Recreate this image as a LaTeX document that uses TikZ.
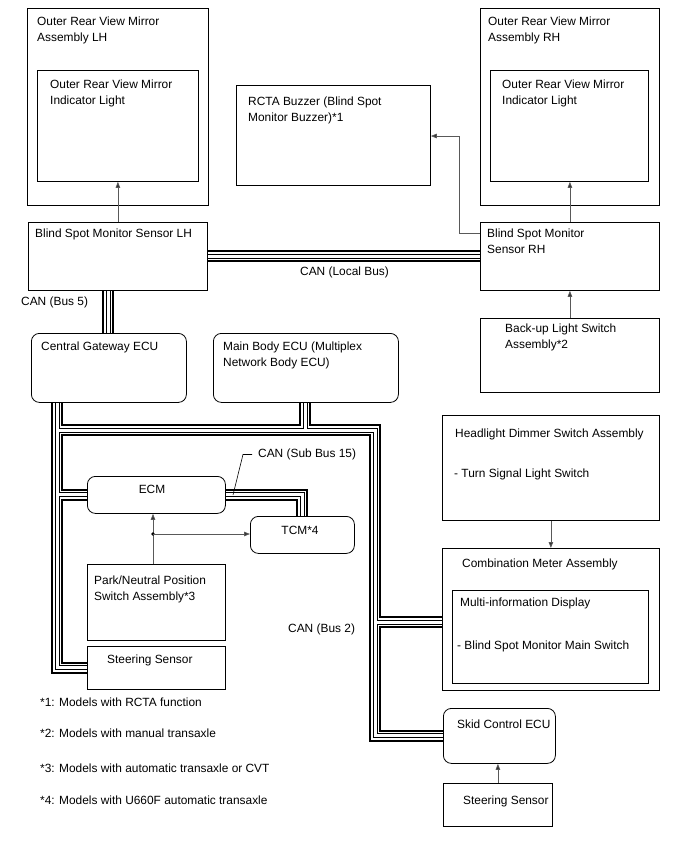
\documentclass[tikz,border=0pt]{standalone}
\usepackage{fontspec}
\setmainfont{Liberation Sans}
\usetikzlibrary{arrows.meta}
\newcommand{\mybox}[6]{\node[#2, minimum width={#5-#3}, minimum height={#6-#4}] (#1) at (#3,#4) {};}
\begin{document}
\begin{tikzpicture}[x=1pt,y=-1pt,
  box/.style={draw=black, line width=0.8pt, inner sep=0pt, anchor=north west},
  rbox/.style={box, rounded corners=8pt},
  txt/.style={inner sep=0pt, anchor=north west, align=left, font=\fontsize{11.9}{16}\selectfont},
  conn/.style={draw=black!65, line width=0.8pt, -{Triangle[length=6pt,width=4.5pt,fill=black!80]}},
  lead/.style={draw=black, line width=0.6pt},
  edge/.style={line width=0.8pt},
]
\path[use as bounding box] (0,0) rectangle (688,852);

% helper coordinates
\coordinate (xb5) at (108,0);
\coordinate (xg) at (57,0);
\coordinate (xr) at (375,0);
\coordinate (xm) at (305,0);
\coordinate (xs) at (302,0);
\coordinate (xp) at (153,0);
\coordinate (xk) at (459,0);
\coordinate (ylb) at (0,256);
\coordinate (yh) at (0,430);
\coordinate (yc) at (0,622);
\coordinate (ya) at (0,233);
\coordinate (yb) at (0,136);

% boxes
\mybox{lhout}{box}{27}{8}{208}{205}
\mybox{lhin}{box}{37}{70}{198}{181}
\mybox{rhout}{box}{480}{8}{659}{205}
\mybox{rhin}{box}{490}{70}{648}{181}
\mybox{rcta}{box}{236}{85}{430}{185}
\mybox{bsl}{box}{28}{222}{207}{290}
\mybox{bsr}{box}{480}{222}{659}{290}
\mybox{bu}{box}{480}{318}{659}{392}
\mybox{gw}{rbox}{31}{333}{186}{402}
\mybox{mb}{rbox}{213}{333}{398}{402}
\mybox{hl}{box}{442}{415}{659}{520}
\mybox{cm}{box}{442}{548}{659}{690}
\mybox{mid}{box}{452}{590}{648}{683}
\mybox{ecm}{rbox}{87}{476}{225}{513}
\mybox{tcm}{rbox}{250}{516}{354}{553}
\mybox{pnp}{box}{87}{564}{225}{640}
\mybox{stl}{box}{87}{646}{225}{689}
\mybox{skid}{rbox}{443}{708}{555}{763}
\mybox{str}{box}{443}{783}{552}{826}

% CAN buses (layered double lines)
\foreach \w/\c in {12/black,8/white,5/black,3/white}{
  \draw[line width=\w pt,\c] (bsl.east |- ylb) -- (bsr.west |- ylb);
  \draw[line width=\w pt,\c] (bsl.south -| xb5) -- (gw.north -| xb5);
  \draw[line width=\w pt,\c,line join=miter] (gw.south -| xg) -- (xg |- stl.west) -- (stl.west);
  \draw[line width=\w pt,\c] (xg |- ecm.west) -- (ecm.west);
  \draw[line width=\w pt,\c,line join=miter] (xg |- yh) -- (xr |- yh) -- (xr |- skid.west) -- (skid.west);
  \draw[line width=\w pt,\c] (mb.south -| xm) -- (xm |- yh);
  \draw[line width=\w pt,\c] (xr |- yc) -- (cm.west |- yc);
  \draw[line width=\w pt,\c,line join=miter] (ecm.east) -- (xs |- ecm.east) -- (xs |- tcm.north);
}

% redraw box borders over bus ends
\draw[edge] ([xshift=8pt]gw.south west) -- ([xshift=-8pt]gw.south east);
\draw[edge] ([xshift=8pt]mb.south west) -- ([xshift=-8pt]mb.south east);
\draw[edge] ([xshift=8pt]gw.north west) -- ([xshift=-8pt]gw.north east);
\draw[edge] (bsl.south west) -- (bsl.south east);
\draw[edge] (bsl.north east) -- (bsl.south east);
\draw[edge] (bsr.north west) -- (bsr.south west);
\draw[edge] ([yshift=-8pt]ecm.north west) -- ([yshift=8pt]ecm.south west);
\draw[edge] ([yshift=-8pt]ecm.north east) -- ([yshift=8pt]ecm.south east);
\draw[edge] ([xshift=8pt]tcm.north west) -- ([xshift=-8pt]tcm.north east);
\draw[edge] (stl.north west) -- (stl.south west);
\draw[edge] (cm.north west) -- (cm.south west);
\draw[edge] ([yshift=-8pt]skid.north west) -- ([yshift=8pt]skid.south west);

% arrows
\draw[conn] (bsl.north) -- (bsl.north |- lhin.south);
\draw[conn] (bsr.north) -- (bsr.north |- rhin.south);
\draw[conn] (bu.north) -- (bu.north |- bsr.south);
\draw[conn] (bsr.west |- ya) -| (xk |- yb) -- (rcta.east |- yb);
\draw[conn] (hl.south) -- (cm.north);
\draw[conn] (pnp.north -| xp) -- (ecm.south -| xp);
\coordinate (jd) at (153,534);
\fill (jd) circle (1.8);
\draw[conn] (jd) -- (tcm.west |- jd);
\draw[conn] (str.north) -- (str.north |- skid.south);

% texts
\node[txt] (t1) at (37,16.7) {Outer Rear View Mirror\\Assembly LH};
\node[txt] (t2) at (50,79.7) {Outer Rear View Mirror\\Indicator Light};
\node[txt] (t3) at (488,16.7) {Outer Rear View Mirror\\Assembly RH};
\node[txt] (t4) at (502,79.7) {Outer Rear View Mirror\\Indicator Light};
\node[txt] (t5) at (248,96.7) {RCTA Buzzer (Blind Spot\\Monitor Buzzer)*1};
\node[txt] (t6) at (35,228.7) {Blind Spot Monitor Sensor LH};
\node[txt] (t7) at (487,228.7) {Blind Spot Monitor\\Sensor RH};
\node[txt] (t8) at (300,266.7) {CAN (Local Bus)};
\node[txt] (t9) at (21,296.7) {CAN (Bus 5)};
\node[txt] (t10) at (505,323.7) {Back-up Light Switch\\Assembly*2};
\node[txt] (t11) at (41,341.7) {Central Gateway ECU};
\node[txt] (t12) at (223,341.7) {Main Body ECU (Multiplex\\Network Body ECU)};
\node[txt] (t13) at (455,428.7) {Headlight Dimmer Switch Assembly};
\node[txt] (t14) at (454,468.7) {- Turn Signal Light Switch};
\node[txt] (sub) at (258,448.7) {CAN (Sub Bus 15)};
\node[txt,anchor=center] (t15) at (152,489) {ECM};
\node[txt,anchor=center] (t16) at (300,530) {TCM*4};
\node[txt] (t17) at (94,575.7) {Park/Neutral Position\\Switch Assembly*3};
\node[txt] (t18) at (107,654.7) {Steering Sensor};
\node[txt] (t19) at (462,558.7) {Combination Meter Assembly};
\node[txt] (t20) at (460,597.7) {Multi-information Display};
\node[txt] (t21) at (457,640.7) {- Blind Spot Monitor Main Switch};
\node[txt] (t22) at (288,623.7) {CAN (Bus 2)};
\node[txt] (t23) at (457,719.7) {Skid Control ECU};
\node[txt] (t24) at (463,795.7) {Steering Sensor};
\node[txt] (n1) at (40,697.7) {*1: Models with RCTA function};
\node[txt] (n2) at (40,728.7) {*2: Models with manual transaxle};
\node[txt] (n3) at (40,763.7) {*3: Models with automatic transaxle or CVT};
\node[txt] (n4) at (40,795.7) {*4: Models with U660F automatic transaxle};

% leader for sub bus label
\coordinate (le) at (233,495);
\draw[lead] ([xshift=-6pt]sub.west) -- ([xshift=-15pt]sub.west) -- (le);
\end{tikzpicture}
\end{document}
